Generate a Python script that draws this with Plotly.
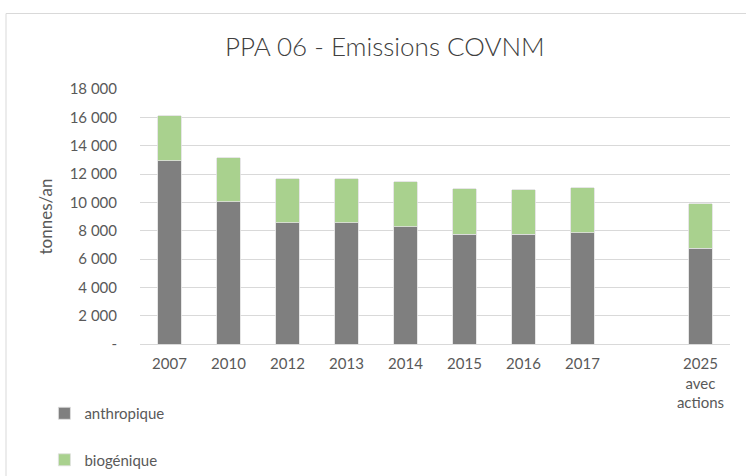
import plotly.graph_objects as go

# Emissions COVNM (tonnes/an) per year; the blank slot keeps a gap before 2025
categories = ["2007", "2010", "2012", "2013", "2014", "2015", "2016", "2017", " ",
              "2025<br>avec<br>actions"]
anthropique = [12950, 10030, 8560, 8560, 8290, 7750, 7730, 7870, None, 6770]
biogenique = [3150, 3110, 3120, 3120, 3180, 3200, 3150, 3150, None, 3120]

y_tickvals = [0, 2000, 4000, 6000, 8000, 10000, 12000, 14000, 16000, 18000]
y_ticktext = ["-", "2 000", "4 000", "6 000", "8 000", "10 000", "12 000",
              "14 000", "16 000", "18 000"]

FONT = "Lato"
TXT = "#595959"

fig = go.Figure()
fig.add_trace(go.Bar(
    x=categories, y=anthropique, name="anthropique", legendgroup="a",
    marker=dict(color="#7f7f7f", line=dict(color="#e0e0e0", width=0.8)),
))
fig.add_trace(go.Bar(
    x=categories, y=biogenique, name="biogénique", legendgroup="b",
    marker=dict(color="#a9d18e", line=dict(color="#e0e0e0", width=0.8)),
))

fig.update_layout(
    width=746, height=476,
    barmode="stack", bargap=0.6,
    margin=dict(l=140, r=16, t=89, b=132, autoexpand=False),
    paper_bgcolor="white", plot_bgcolor="white",
    font=dict(family=FONT, size=15, color=TXT),
    title=dict(text="PPA 06 - Emissions COVNM",
               font=dict(family=FONT, size=26, color="#404040", weight=300),
               x=0.415, xref="paper", xanchor="center",
               y=1 - 47 / 476, yref="container", yanchor="middle"),
    showlegend=True,
    legend=dict(orientation="v", x=-0.162, xanchor="left", y=-0.208, yanchor="top",
                traceorder="grouped", tracegroupgap=24,
                font=dict(family=FONT, size=15, color=TXT),
                bgcolor="rgba(0,0,0,0)"),
    xaxis=dict(type="category", categoryorder="array", categoryarray=categories,
               showgrid=False, showline=True, linecolor="#d9d9d9", linewidth=1,
               ticks="outside", ticklen=6, tickcolor="rgba(0,0,0,0)",
               tickfont=dict(family=FONT, size=15, color=TXT), fixedrange=True),
    yaxis=dict(range=[0, 18000], tickvals=y_tickvals, ticktext=y_ticktext,
               showgrid=True, gridcolor="#d9d9d9", gridwidth=1, zeroline=False,
               showline=False, ticks="outside", ticklen=19, tickcolor="rgba(0,0,0,0)",
               tickfont=dict(family=FONT, size=15, color=TXT),
               title=dict(text="tonnes/an", font=dict(family=FONT, size=17, color=TXT), standoff=12),
               automargin=False, fixedrange=True),
    shapes=[dict(type="rect", xref="paper", yref="paper",
                 x0=-134 / 590, x1=1.05, y0=-0.6, y1=(344 - 13.5) / 255,
                 line=dict(color="#d9d9d9", width=1), fillcolor="rgba(0,0,0,0)", layer="below")],
)

fig.write_html("out.html")
